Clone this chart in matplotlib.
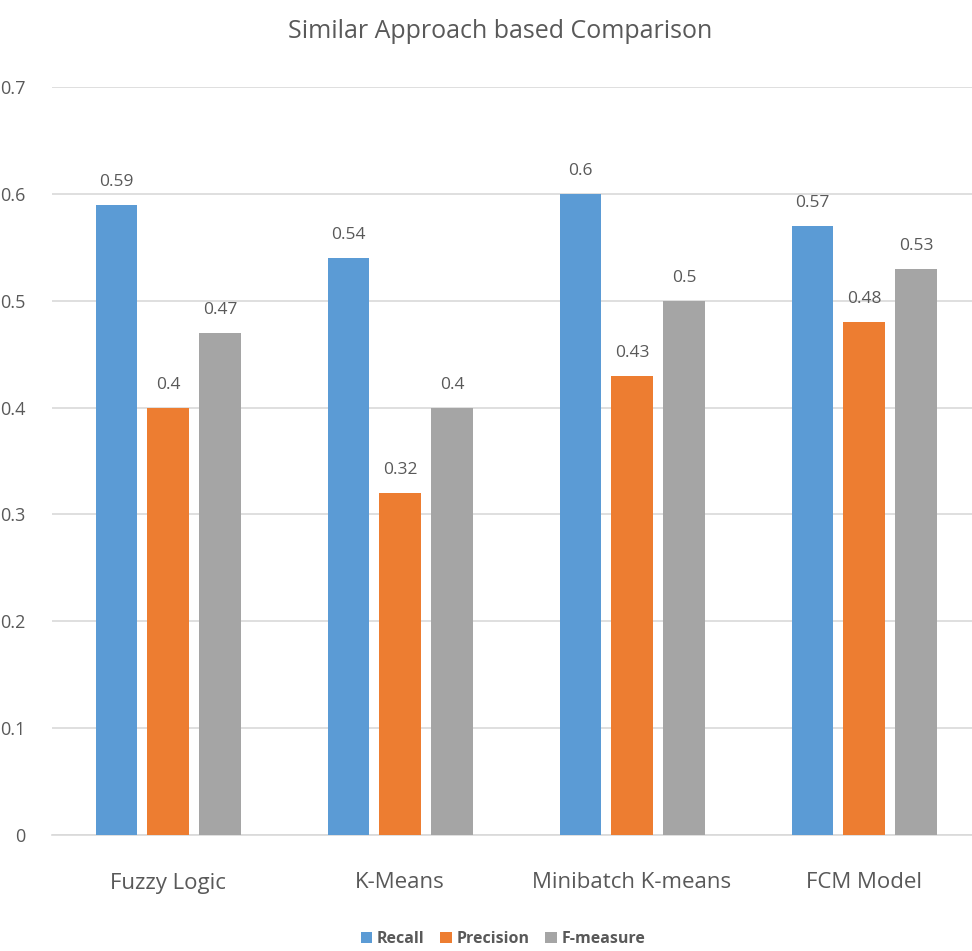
import matplotlib
matplotlib.use("Agg")
import matplotlib.pyplot as plt
import numpy as np

plt.rcParams['font.family'] = ['Liberation Sans Narrow', 'Open Sans', 'DejaVu Sans']

categories = ["Fuzzy Logic", "K-Means", "Minibatch K-means", "FCM Model"]
series_names = ["Recall", "Precision", "F-measure"]
recall = [0.59, 0.54, 0.6, 0.57]
precision = [0.4, 0.32, 0.43, 0.48]
fmeasure = [0.47, 0.4, 0.5, 0.53]
colors = ["#5B9BD5", "#ED7D31", "#A5A5A5"]
text_color = "#595959"
grid_color = "#D9D9D9"

W, H = 972, 951
fig = plt.figure(figsize=(W / 100, H / 100), dpi=100)
ax = fig.add_axes([52 / W, 1 - 835 / H, 920 / W, (835 - 87) / H])

x = np.arange(len(categories))
pitch = 0.224
width = 0.177
for i, (vals, name) in enumerate(zip([recall, precision, fmeasure], series_names)):
    pos = x + (i - 1) * pitch
    bars = ax.bar(pos, vals, width, color=colors[i], label=name, zorder=3)
    for b, v in zip(bars, vals):
        ax.text(b.get_x() + b.get_width() / 2, v + 0.014, f"{v:g}",
                ha="center", va="bottom", fontsize=12.5, color=text_color)

ax.set_xlim(-0.5, -0.5 + 920 / 232)
ax.set_ylim(0, 0.7)
ax.set_yticks(np.arange(0, 0.71, 0.1))
ax.set_yticklabels(["0", "0.1", "0.2", "0.3", "0.4", "0.5", "0.6", "0.7"])
ax.yaxis.grid(True, color=grid_color, linewidth=1.2, zorder=0)
ax.set_xticks(x)
ax.set_xticklabels(categories, fontsize=16, color=text_color)
ax.tick_params(axis="y", labelsize=13, labelcolor=text_color, length=0, pad=19)
ax.tick_params(axis="x", length=0, pad=27)
for s in ["top", "right", "left"]:
    ax.spines[s].set_visible(False)
ax.spines["bottom"].set_color(grid_color)
ax.spines["bottom"].set_linewidth(1.2)

fig.text(500 / W, 1 - 31 / H, "Similar Approach based Comparison", ha="center", va="center",
         fontsize=18, color=text_color)

leg = fig.legend(loc="center", bbox_to_anchor=(503 / W, 1 - 939 / H), ncol=3, frameon=False,
                 handlelength=0.7, handleheight=0.7, handletextpad=0.3, columnspacing=1.0,
                 prop={"size": 11.5, "weight": "bold"})
for t in leg.get_texts():
    t.set_color(text_color)

fig.savefig("out.png", dpi=100)
